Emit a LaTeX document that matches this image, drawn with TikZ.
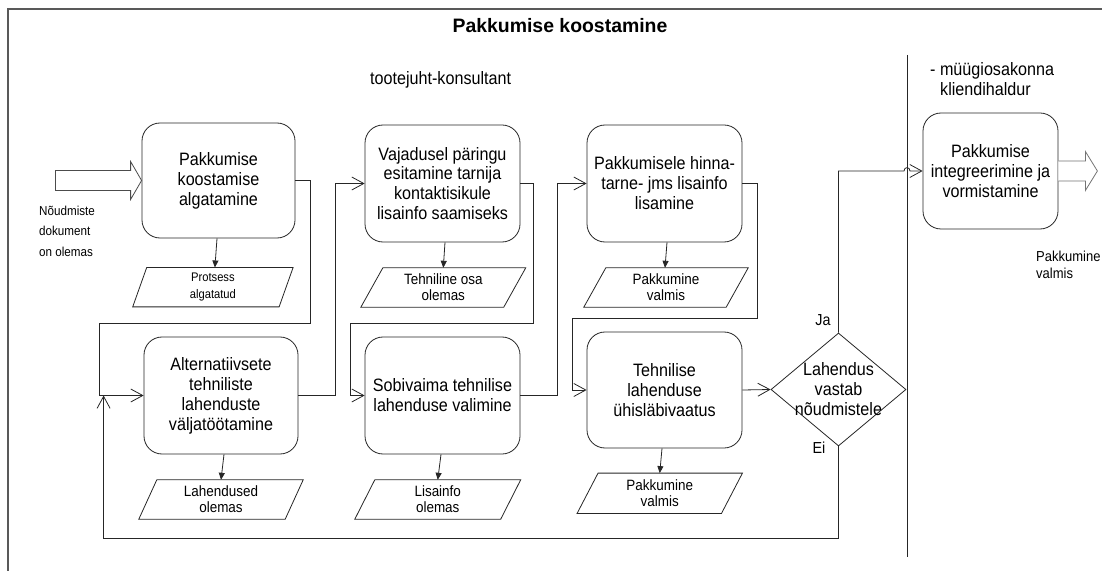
\documentclass[tikz,border=0pt]{standalone}
\usepackage{fontspec}
\setmainfont{Liberation Sans}
\newfontfamily\narrowsans{Liberation Sans}[FakeStretch=0.9]
\usetikzlibrary{arrows.meta,shapes.geometric,calc}

% parallelogram outline around a data node: #1 node name, #2 half of the slant offset (bp)
\newcommand\dataframe[2]{%
  \draw[dline] ([xshift=#2bp]#1.north west) -- ([xshift=#2bp]#1.north east)
    -- ([xshift=-#2bp]#1.south east) -- ([xshift=-#2bp]#1.south west) -- cycle;}

\begin{document}
\begin{tikzpicture}[x=1bp,y=-1bp,
  dline/.style={draw=black!85, line width=0.8bp},
  proc/.style={dline, rounded corners=18bp, align=center, inner sep=2bp,
    font=\narrowsans\fontsize{18}{20}\selectfont},
  dtext/.style={align=center, inner sep=0pt, minimum height=39bp,
    font=\narrowsans\fontsize{15}{16}\selectfont},
  conn/.style={dline, -{Straight Barb[length=12bp,width=13bp]}},
  darr/.style={dline, -{Triangle[length=7bp,width=6bp]}},
  blockarrow/.style={draw=black!70, line width=0.8bp, fill=white, line join=miter},
  frameline/.style={draw=black!65, line width=1.3bp},
  lbl/.style={inner sep=0pt, font=\narrowsans\fontsize{18}{20}\selectfont},
  small/.style={inner sep=0pt, align=left, font=\narrowsans\fontsize{13}{20.5}\selectfont}]

\useasboundingbox (0,0) rectangle (1102,571);

% pool frame and lane divider
\draw[frameline] (8,571) -- (8,9) -- (1102,9);
\draw[dline] (907,55) -- (907,557);

% headings
\node[inner sep=0pt, font=\bfseries\fontsize{19.5}{22}\selectfont] (title) at (560,26) {Pakkumise koostamine};
\node[lbl, anchor=base west] (lane1) at (370,85) {tootejuht-konsultant};
\node[lbl, anchor=base west] (lane2a) at (930,76) {- müügiosakonna};
\node[lbl, anchor=base west] (lane2b) at (940,96) {kliendihaldur};

% process steps
\node[proc, minimum width=153bp, minimum height=115bp] (b1) at (218.5,180.5) {Pakkumise\\koostamise\\algatamine};
\node[proc, minimum width=155bp, minimum height=117bp] (b2) at (442.5,183.5) {Vajadusel päringu\\esitamine tarnija\\kontaktisikule\\lisainfo saamiseks};
\node[proc, minimum width=155bp, minimum height=117bp] (b4) at (664.5,183.5) {Pakkumisele hinna-\\tarne- jms lisainfo\\lisamine};
\node[proc, minimum width=154bp, minimum height=117bp] (bA) at (221,395.5) {Alternatiivsete\\tehniliste\\lahenduste\\väljatöötamine};
\node[proc, minimum width=155bp, minimum height=117bp] (b3) at (442.5,395.5) {Sobivaima tehnilise\\lahenduse valimine};
\node[proc, minimum width=155bp, minimum height=116bp] (b5) at (664.5,390) {Tehnilise\\lahenduse\\ühisläbivaatus};
\node[proc, minimum width=135bp, minimum height=116bp] (b6) at (990.5,171) {Pakkumise\\integreerimine ja\\vormistamine};

% decision
\node[dline, diamond, minimum width=135bp, minimum height=113bp, inner sep=0pt] (dec) at (838.5,389.5) {};
\node[lbl, align=center] (dect) at (dec.center) {Lahendus\\vastab\\nõudmistele};
\node[inner sep=0pt, font=\narrowsans\fontsize{16}{18}\selectfont] (ja) at (823,320) {Ja};
\node[inner sep=0pt, font=\narrowsans\fontsize{16}{18}\selectfont] (ei) at (819,448) {Ei};

% data objects
\node[dtext, minimum width=146bp, font=\narrowsans\fontsize{12.5}{16.5}\selectfont] (p1) at (212.9,287.2) {Protsess\\algatatud};
\node[dtext, minimum width=142.5bp] (p2) at (443.3,287.5) {Tehniline osa\\olemas};
\node[dtext, minimum width=142bp] (p4) at (666,287.5) {Pakkumine\\valmis};
\node[dtext, minimum width=146bp] (pA) at (221,499.5) {Lahendused\\olemas};
\node[dtext, minimum width=145.5bp] (p3) at (437.75,499.5) {Lisainfo\\olemas};
\node[dtext, minimum width=144bp, minimum height=40bp] (p5) at (659.75,493.3) {Pakkumine\\valmis};
\dataframe{p1}{7}
\dataframe{p2}{11}
\dataframe{p4}{11}
\dataframe{pA}{9}
\dataframe{p3}{10}
\dataframe{p5}{10.5}

% outputs of each step
\draw[darr] ([xshift=-1.5bp]b1.south) -- ([xshift=2bp]p1.north);
\draw[darr] ([xshift=2.5bp]b2.south) -- (p2.north);
\draw[darr] ([xshift=2.5bp]b4.south) -- ([xshift=-1bp]p4.north);
\draw[darr] ([xshift=3bp]bA.south) -- (pA.north);
\draw[darr] ([xshift=-1.5bp]b3.south) -- (p3.north);
\draw[darr] ([xshift=-2.5bp]b5.south) -- (p5.north);

% input and output block arrows
\draw[blockarrow] ($(b1.west)+(-86,-10)$) -- ($(b1.west)+(-11,-10)$) -- ($(b1.west)+(-11,-19)$)
  -- (b1.west) -- ($(b1.west)+(-11,19)$) -- ($(b1.west)+(-11,10)$) -- ($(b1.west)+(-86,10)$) -- cycle;
\draw[blockarrow, draw=black!55] ($(b6.east)+(0,-10)$) -- ($(b6.east)+(27,-10)$) -- ($(b6.east)+(27,-19.5)$)
  -- ($(b6.east)+(39,0)$) -- ($(b6.east)+(27,19.5)$) -- ($(b6.east)+(27,10)$) -- ($(b6.east)+(0,10)$);
\node[small, anchor=west] (inlbl) at (39,231) {Nõudmiste\\dokument\\on olemas};
\node[inner sep=0pt, align=left, anchor=west, font=\narrowsans\fontsize{14.5}{17}\selectfont] (outlbl) at (1036,265) {Pakkumine\\valmis};

% sequence flow
\coordinate (fb) at ($(bA.west)+(-40,0)$);
\draw[conn] (b1.east) -| (310,323) -| ($(bA.west)+(-44,0)$) -- (bA.west);
\draw[conn] (bA.east) -- ++(37,0) |- (b2.west);
\draw[conn] (b2.east) -| (533,323) -| ($(b3.west)+(-14,0)$) -- (b3.west);
\draw[conn] (b3.east) -- ++(37,0) |- (b4.west);
\draw[conn] (b4.east) -| (757,318) -| ($(b5.west)+(-14,0)$) -- (b5.west);
\draw[conn] (b5.east) -- (dec.west);
\draw[conn] (dec.north) -- (dec.north |- b6.west) -- (904,171)
  .. controls (904,166.5) and (910,166.5) .. (910,171) -- (b6.west);
\draw[conn] (dec.south) |- ($(fb)+(0,142.5)$) -- (fb);

\end{tikzpicture}
\end{document}
